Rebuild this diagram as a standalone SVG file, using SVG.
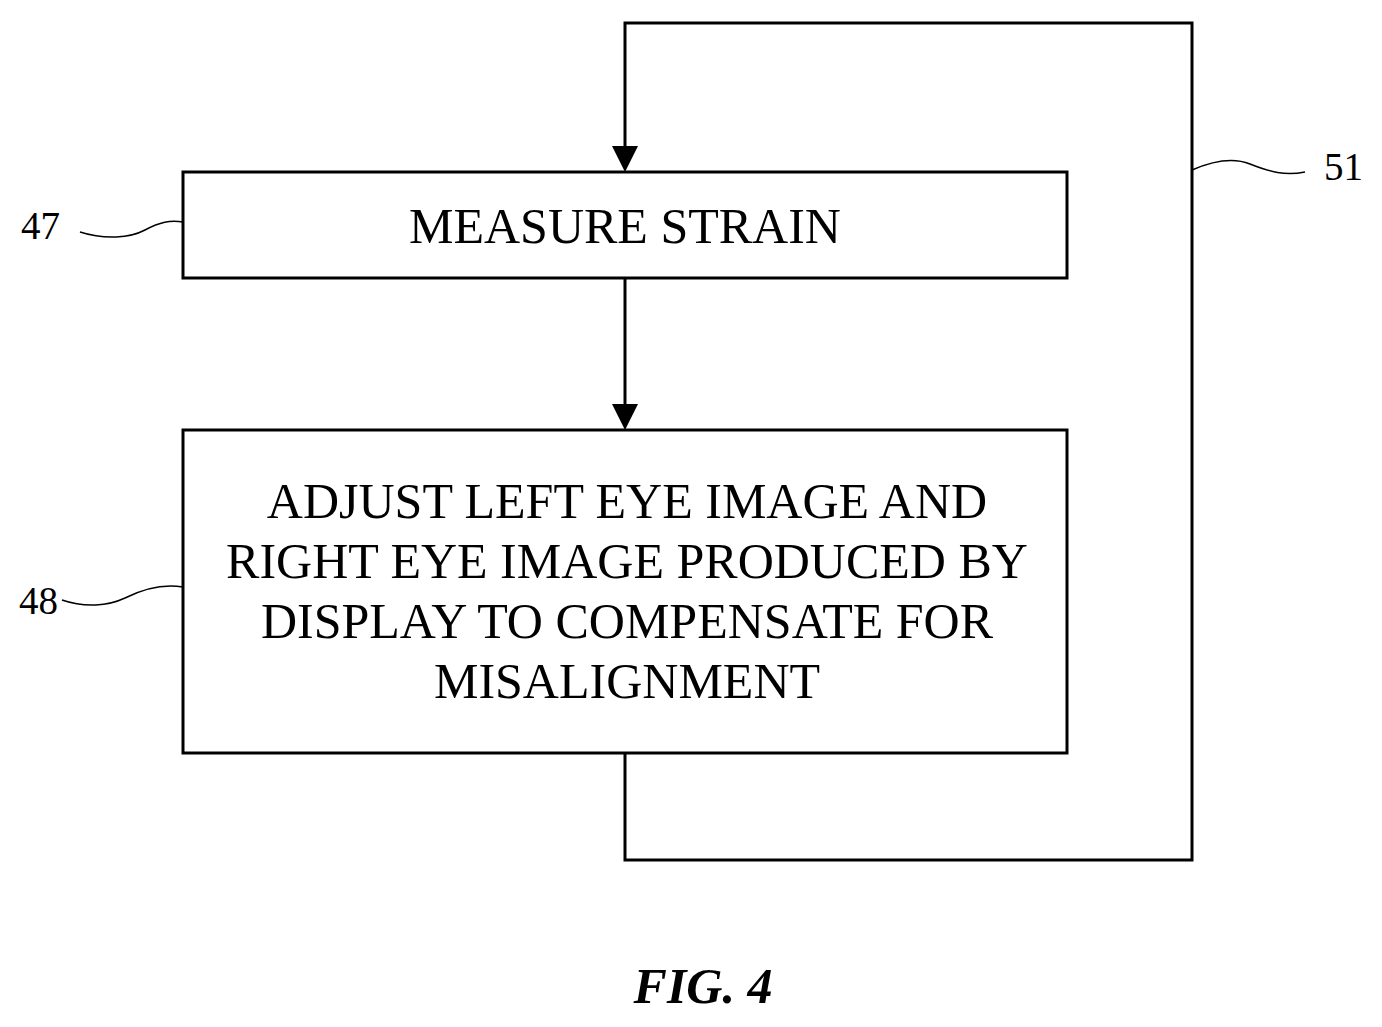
<svg xmlns="http://www.w3.org/2000/svg" width="1382" height="1027" viewBox="0 0 1382 1027">
<style>
.b{fill:#fff;stroke:#000;stroke-width:3}
.l{fill:none;stroke:#000;stroke-width:3}
.s{fill:none;stroke:#000;stroke-width:1.5}
text{font-family:"Liberation Serif",serif;font-size:50px;fill:#000}
.n{font-size:39px}
</style>
<rect width="1382" height="1027" fill="#fff"/>
<g id="connectors">
<polyline class="l" points="625,753 625,860 1192,860 1192,23 625,23 625,150"/>
<polygon points="612,146 638,146 625,172"/>
<line class="l" x1="625" y1="278" x2="625" y2="408"/>
<polygon points="612,404 638,404 625,430"/>
<path class="s" d="M80,232 C105,240 130,238 145,230 C160,222 170,220 183,222"/>
<path class="s" d="M62,600 C85,608 108,606 125,598 C145,588 165,584 183,587"/>
<path class="s" d="M1192,170 C1215,160 1235,158 1250,164 C1270,172 1285,176 1305,172"/>
</g>
<g id="n47"><rect class="b" x="183" y="172" width="884" height="106"/><text x="625" y="243" text-anchor="middle">MEASURE STRAIN</text></g>
<g id="n48"><rect class="b" x="183" y="430" width="884" height="323"/>
<text x="627" y="518" text-anchor="middle">ADJUST LEFT EYE IMAGE AND</text>
<text x="627" y="578" text-anchor="middle">RIGHT EYE IMAGE PRODUCED BY</text>
<text x="627" y="638" text-anchor="middle">DISPLAY TO COMPENSATE FOR</text>
<text x="627" y="698" text-anchor="middle">MISALIGNMENT</text></g>
<text class="n" x="21" y="239">47</text>
<text class="n" x="19" y="614">48</text>
<text class="n" x="1324" y="180">51</text>
<text x="703" y="1003" text-anchor="middle" font-weight="bold" font-style="italic" font-size="73">FIG. 4</text>
</svg>
